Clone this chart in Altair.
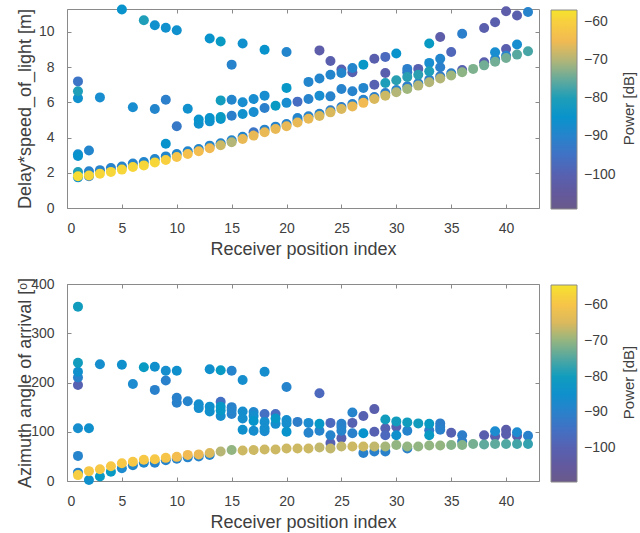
import altair as alt
import pandas as pd

# Receiver positions along the measurement track
receivers = list(range(1, 43))

# Path delays (delay * c, metres) per receiver position
delay_m = [
    [7.19, 6.63, 6.23, 3.05, 2.95, 2.04, 1.74, 1.80],
    [3.26, 2.08, 1.80, 1.85],
    [6.28, 2.15, 1.95],
    [2.27, 2.05],
    [11.27, 2.36, 2.18],
    [5.72, 2.52, 2.33],
    [10.66, 2.61, 2.42],
    [10.38, 5.62, 2.78, 2.59],
    [10.24, 6.15, 3.65, 2.93, 2.73],
    [10.09, 4.64, 3.07, 2.90],
    [5.64, 3.22, 3.07],
    [5.02, 4.78, 3.35, 3.22],
    [9.62, 5.11, 4.92, 3.54, 3.39],
    [9.45, 6.11, 5.17, 5.06, 3.68, 3.56],
    [8.14, 6.15, 5.24, 3.85, 3.73],
    [9.34, 6.00, 5.34, 4.05, 3.92],
    [6.19, 5.45, 4.30, 4.11],
    [8.99, 6.38, 5.68, 4.45, 4.30],
    [5.81, 4.62, 4.49],
    [8.86, 6.82, 5.97, 4.77, 4.64],
    [6.04, 5.11, 4.98, 4.86],
    [7.16, 6.19, 5.21, 5.07],
    [8.95, 7.35, 6.38, 5.35, 5.22],
    [8.35, 7.57, 6.34, 5.55, 5.43],
    [7.86, 7.67, 6.76, 5.74, 5.62],
    [7.95, 7.71, 6.63, 5.90, 5.77],
    [8.14, 6.82, 6.15, 5.97],
    [8.47, 7.00, 6.30, 6.19],
    [8.58, 7.67, 7.10, 6.53, 6.38],
    [8.77, 7.25, 6.70, 6.57],
    [7.90, 7.71, 7.44, 6.91, 6.76],
    [7.90, 7.57, 7.08, 6.95],
    [9.34, 8.24, 7.76, 7.28, 7.14],
    [9.71, 8.47, 7.99, 7.48, 7.35],
    [8.86, 7.65, 7.52],
    [9.89, 7.84, 7.71],
    [7.90],
    [10.22, 8.27, 8.10],
    [10.55, 8.84, 8.45, 8.30],
    [11.17, 9.03, 8.65, 8.52],
    [10.93, 9.28, 8.71],
    [11.13, 8.90],
]
delay_db = [
    [-94, -80, -86, -87, -85, -80, -86, -58],
    [-89, -90, -91, -59],
    [-87, -90, -59],
    [-90, -59],
    [-85, -90, -59],
    [-87, -90, -59],
    [-80, -89, -59],
    [-86, -89, -89, -59],
    [-86, -91, -85, -89, -60],
    [-86, -93, -89, -62],
    [-86, -89, -63],
    [-85, -86, -89, -64],
    [-85, -85, -86, -89, -65],
    [-82, -81, -82, -85, -89, -68],
    [-90, -89, -91, -89, -70],
    [-86, -87, -86, -89, -66],
    [-87, -87, -94, -66],
    [-85, -87, -91, -90, -66],
    [-82, -90, -66],
    [-89, -83, -87, -90, -66],
    [-96, -89, -90, -66],
    [-89, -90, -90, -66],
    [-102, -89, -87, -90, -67],
    [-101, -89, -90, -91, -67],
    [-100, -89, -90, -91, -67],
    [-89, -100, -90, -90, -66],
    [-83, -89, -90, -65],
    [-101, -100, -91, -67],
    [-97, -101, -80, -91, -68],
    [-85, -79, -90, -70],
    [-91, -92, -79, -91, -71],
    [-100, -79, -91, -70],
    [-82, -87, -80, -91, -70],
    [-102, -89, -91, -92, -70],
    [-98, -91, -71],
    [-91, -100, -72],
    [-73],
    [-101, -101, -74],
    [-101, -87, -91, -74],
    [-102, -101, -90, -74],
    [-101, -87, -76],
    [-90, -77],
]

# Azimuth angles of arrival (degrees) per receiver position
azimuth_deg = [
    [354, 240, 222, 210, 195, 107, 51, 17, 12],
    [107, 20, 2],
    [237, 24, 9],
    [30, 19],
    [236, 36, 26],
    [197, 39, 32],
    [231, 43, 37],
    [232, 185, 44, 37],
    [224, 204, 47, 42],
    [224, 169, 159, 49, 45],
    [162, 53, 48],
    [156, 148, 54, 50],
    [227, 151, 141, 57, 53],
    [225, 161, 151, 143, 132, 60],
    [224, 150, 144, 136, 63],
    [205, 141, 127, 104, 62],
    [140, 132, 122, 102, 63],
    [222, 136, 120, 107, 101, 64],
    [136, 127, 116, 64],
    [191, 124, 117, 100, 66],
    [120, 66],
    [118, 98, 66],
    [178, 116, 102, 68],
    [118, 93, 77, 66],
    [116, 110, 102, 87, 70],
    [139, 118, 97, 70],
    [132, 97, 70, 57],
    [146, 100, 70, 60],
    [125, 107, 93, 70, 60],
    [121, 110, 93, 73],
    [119, 102, 70, 66],
    [117, 70],
    [116, 103, 93, 72],
    [117, 110, 104, 72],
    [98, 73],
    [93, 80, 73],
    [75],
    [93, 74],
    [101, 91, 75],
    [104, 95, 75],
    [99, 92, 75],
    [92, 75],
]
azimuth_db = [
    [-80, -80, -85, -90, -100, -86, -89, -89, -58],
    [-85, -59, -85],
    [-86, -59, -81],
    [-59, -81],
    [-85, -59, -87],
    [-87, -59, -88],
    [-81, -59, -88],
    [-85, -90, -59, -89],
    [-86, -90, -60, -89],
    [-85, -90, -90, -62, -89],
    [-89, -63, -89],
    [-86, -86, -64, -89],
    [-85, -85, -85, -65, -89],
    [-81, -95, -82, -82, -86, -68],
    [-89, -90, -89, -90, -70],
    [-86, -86, -86, -85, -66],
    [-88, -86, -83, -86, -66],
    [-86, -95, -86, -86, -87, -66],
    [-96, -82, -86, -66],
    [-89, -86, -86, -84, -66],
    [-91, -66],
    [-87, -89, -66],
    [-97, -82, -89, -67],
    [-97, -89, -100, -67],
    [-90, -90, -89, -100, -67],
    [-89, -100, -90, -66],
    [-100, -84, -66, -90],
    [-101, -100, -67, -90],
    [-80, -100, -97, -69, -90],
    [-80, -100, -85, -70],
    [-80, -89, -70, -90],
    [-80, -70],
    [-81, -91, -81, -70],
    [-91, -91, -90, -70],
    [-100, -71],
    [-91, -91, -71],
    [-72],
    [-101, -74],
    [-87, -101, -74],
    [-102, -101, -75],
    [-87, -101, -76],
    [-90, -77],
]

x_ticks = [0, 5, 10, 15, 20, 25, 30, 35, 40]
delay_ticks = [0, 2, 4, 6, 8, 10]
azimuth_ticks = [0, 100, 200, 300, 400]
power_ticks = [-60, -70, -80, -90, -100]

# Colour limits of each panel's colorbar (dB)
delay_clim = [-109.0, -56.9]
azimuth_clim = [-109.5, -54.4]

# Parula-like colormap, low to high
parula = [
    "#6a5a8a", "#62599e", "#5860b0", "#466dc2", "#2f7dc9", "#1a8ccf",
    "#0898c8", "#2ea0b0", "#70ac98", "#b5b677", "#f0b854", "#f7c846",
    "#f5e32c",
]

FONT = "Liberation Sans"
INK = "#404040"
FRAME = "#8a8a8a"


def table(values, powers):
    rows = []
    for rx, vals, pws in zip(receivers, values, powers):
        for v, p in zip(vals, pws):
            rows.append({"rx": rx, "value": v, "power": p})
    return pd.DataFrame(rows).sort_values("power", kind="stable")


def panel(df, ytitle, ydomain, yticks, clim, height):
    x_scale = alt.Scale(domain=[0, 43], nice=False, zero=False)
    y_scale = alt.Scale(domain=ydomain, nice=False, zero=False)
    dots = alt.Chart(df).mark_circle(size=100, opacity=1).encode(
        x=alt.X(
            "rx:Q", scale=x_scale,
            axis=alt.Axis(values=x_ticks, title="Receiver position index", orient="bottom",
                          offset=-4, tickSize=4, domain=False, grid=False,
                          labelPadding=13, titlePadding=5),
        ),
        y=alt.Y(
            "value:Q", scale=y_scale,
            axis=alt.Axis(values=yticks, title=ytitle, orient="left",
                          offset=-4, tickSize=4, domain=False, grid=False,
                          labelPadding=13, titleX=-46, titleBaseline="middle"),
        ),
        color=alt.Color(
            "power:Q",
            scale=alt.Scale(domain=clim, range=parula, nice=False, zero=False),
            legend=alt.Legend(
                title=None, orient="none", legendX=484, legendY=1,
                direction="vertical", gradientLength=height, gradientThickness=26,
                gradientStrokeColor=FRAME, gradientStrokeWidth=1,
                values=power_ticks, labelOffset=7,
                labelFont=FONT, labelFontSize=14, labelColor=INK,
            ),
        ),
        order=alt.Order("power:Q"),
    )
    mirror = alt.Chart(df).mark_circle(opacity=0).encode(
        x=alt.X("rx:Q", scale=x_scale,
                axis=alt.Axis(values=x_ticks, orient="top", labels=False, title=None,
                              offset=-4, tickSize=4, domain=False, grid=False)),
        y=alt.Y("value:Q", scale=y_scale,
                axis=alt.Axis(values=yticks, orient="right", labels=False, title=None,
                              offset=-4, tickSize=4, domain=False, grid=False)),
    )
    cbar_title = alt.Chart(pd.DataFrame({"t": ["Power [dB]"]})).mark_text(
        angle=270, font=FONT, fontSize=15, color=INK, align="center", baseline="middle"
    ).encode(text="t:N", x=alt.value(562), y=alt.value(height / 2))
    return (
        alt.layer(dots, mirror, cbar_title)
        .resolve_axis(x="independent", y="independent")
        .properties(width=472, height=height)
    )


top = panel(table(delay_m, delay_db), "Delay*speed_of_light [m]", [0, 11.3], delay_ticks, delay_clim, 199)
bottom = panel(table(azimuth_deg, azimuth_db), "Azimuth angle of arrival [\u1d52]", [0, 400], azimuth_ticks, azimuth_clim, 197)

chart = (
    alt.vconcat(top, bottom, spacing=76, bounds="flush")
    .resolve_scale(color="independent")
    .configure(padding={"left": 15, "top": 4, "right": 0, "bottom": 0}, background="white")
    .configure_view(stroke=FRAME, strokeWidth=1)
    .configure_axis(
        labelFont=FONT, labelFontSize=14, labelColor=INK,
        titleFont=FONT, titleFontSize=18, titleColor=INK, titleFontWeight="normal",
        tickColor=FRAME, tickWidth=1,
    )
)

chart.save("out.html", embed_options={"renderer": "svg", "actions": False})
